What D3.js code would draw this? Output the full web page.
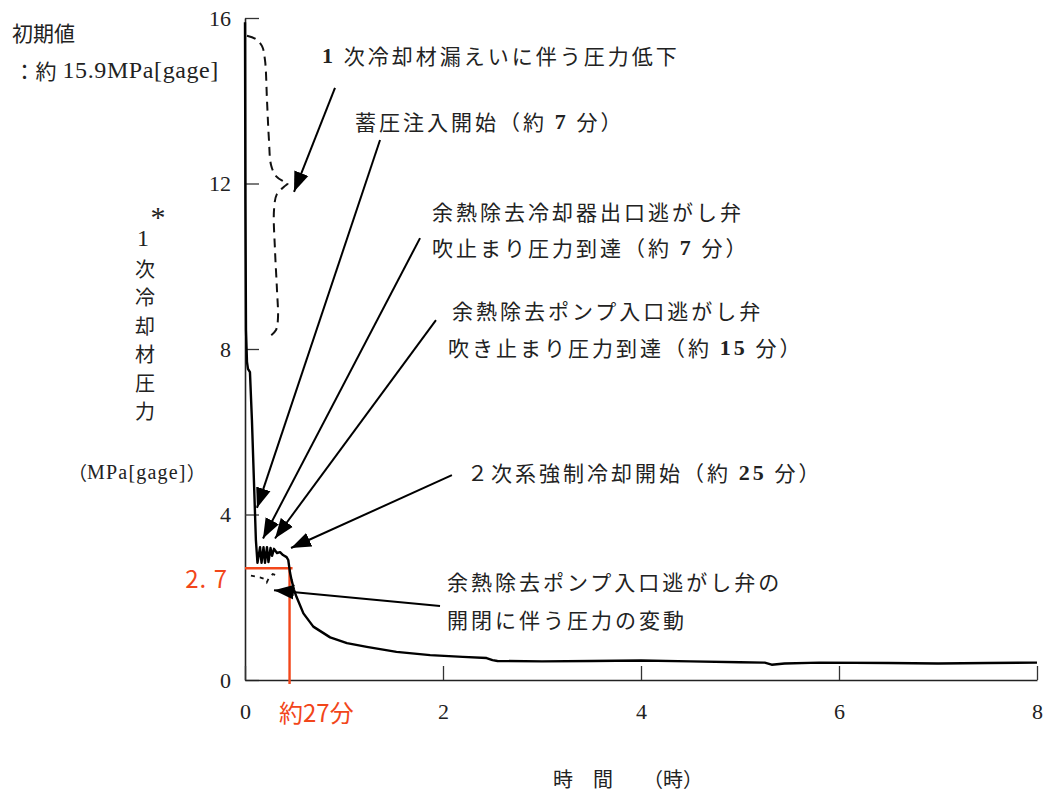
<!DOCTYPE html>
<html lang="ja">
<head>
<meta charset="utf-8">
<script src="https://cdn.jsdelivr.net/npm/d3@7/dist/d3.min.js"></script>
<style>
  html, body { margin: 0; padding: 0; background: #fff; }
  svg { display: block; }
</style>
</head>
<body>
<svg id="chart" width="1044" height="794"></svg>
<script>
// ---- data -------------------------------------------------------------
// elapsed time [h] and primary coolant pressure [MPa gage]
const timeH = [
  0, 0.004, 0.01, 0.02, 0.03, 0.05, 0.07, 0.09, 0.11, 0.126,
  0.152, 0.167, 0.187, 0.202, 0.222, 0.237, 0.258, 0.273, 0.293, 0.323,
  0.354, 0.384, 0.42, 0.437, 0.455, 0.47, 0.495, 0.52, 0.59, 0.69,
  0.86, 1.03, 1.23, 1.53, 1.87, 2.2, 2.44, 2.5, 2.55, 3.0,
  3.5, 4.0, 4.5, 5.0, 5.25, 5.32, 5.45, 5.8, 6.5, 7.0,
  7.5, 8.0
];
const pressure = [
  15.9, 11.6, 8.46, 7.69, 7.52, 7.44, 6.28, 4.83, 3.38, 2.83,
  3.21, 2.83, 3.21, 2.83, 3.21, 2.85, 3.19, 3.0, 3.17, 3.07,
  3.09, 3.02, 2.97, 2.9, 2.59, 2.42, 2.18, 2.01, 1.61, 1.29,
  1.03, 0.89, 0.8, 0.68, 0.6, 0.56, 0.53, 0.48, 0.46, 0.45,
  0.46, 0.47, 0.45, 0.43, 0.42, 0.37, 0.4, 0.42, 0.41, 0.4,
  0.41, 0.42
];

// pressure fluctuation while the RHR pump inlet relief valve cycles
const flucTime = [0.06, 0.15, 0.2, 0.22, 0.24, 0.28, 0.33];
const flucPres = [2.52, 2.48, 2.44, 2.36, 2.46, 2.56, 2.52];

// schematic of the initial depressurisation (dashed)
const schemTime = [0.02, 0.111, 0.172, 0.202, 0.222, 0.242, 0.263, 0.313, 0.384, 0.434,
                   0.394, 0.323, 0.293, 0.303, 0.323, 0.333, 0.313, 0.232];
const schemPres = [15.57, 15.49, 15.32, 14.98, 14.02, 13.05, 12.45, 12.18, 12.06, 12.01,
                   11.92, 11.75, 11.36, 10.39, 9.43, 8.75, 8.46, 8.27];

const xTicks = [0, 2, 4, 6, 8];
const yTicks = [0, 4, 8, 12, 16];

// reference marker: about 27 min (0.45 h) at 2.7 MPa
const markTime = 0.45;
const markPres = 2.7;

// annotation arrows: [tail time, tail pressure], [tip time, tip pressure]
const arrowTail = [[0.909, 14.31], [1.364, 13.05], [1.768, 10.68], [1.929, 8.70], [2.09, 4.95], [1.97, 1.79]];
const arrowTip  = [[0.495, 11.80], [0.121, 4.16], [0.182, 3.42], [0.303, 3.42], [0.465, 3.19], [0.293, 2.17]];

// annotation texts
const noteLines = [
  "1 次冷却材漏えいに伴う圧力低下",
  "蓄圧注入開始（約 7 分）",
  "余熱除去冷却器出口逃がし弁",
  "吹止まり圧力到達（約 7 分）",
  "余熱除去ポンプ入口逃がし弁",
  "吹き止まり圧力到達（約 15 分）",
  "２次系強制冷却開始（約 25 分）",
  "余熱除去ポンプ入口逃がし弁の",
  "開閉に伴う圧力の変動"
];
const notePos = [[322, 55], [355, 121], [432, 211], [432, 247], [452, 310], [448, 347], [467, 472], [447, 581], [447, 619]];

const yTitleChars = ["次", "冷", "却", "材", "圧", "力"];

// ---- drawing ----------------------------------------------------------
const svg = d3.select("#chart");
const x = d3.scaleLinear().domain([0, 8]).range([245, 1037]);
const y = d3.scaleLinear().domain([0, 16]).range([680, 18]);

const CJK = "'Noto Sans CJK JP', 'Noto Sans', sans-serif";
const SERIF = "'Liberation Serif', 'DejaVu Serif', serif";
const RED = "#f2461a";

// writes a string, ASCII runs in serif, everything else in the CJK face
function mixedText(sel, str, size, bold, asciiSize) {
  const parts = str.match(/[\x21-\x7E]+|[^\x21-\x7E]+/g) || [];
  parts.forEach(p => {
    const ascii = /^[\x21-\x7E]+$/.test(p);
    sel.append("tspan")
      .attr("font-family", ascii ? SERIF : CJK)
      .attr("font-weight", ascii && bold ? "bold" : "normal")
      .attr("font-size", ascii ? (asciiSize || size + 1) : size)
      .text(p);
  });
}

// axes
const yAxis = d3.axisLeft(y).tickValues(yTicks).tickSizeInner(-14).tickSizeOuter(0).tickPadding(14);
const gy = svg.append("g").attr("transform", `translate(${x(0)},0)`).call(yAxis);
gy.select(".domain").attr("stroke", "#222").attr("stroke-width", 1.6);
gy.selectAll(".tick line").attr("stroke", "#333").attr("stroke-width", 1.3);
gy.selectAll(".tick text").attr("font-family", SERIF).attr("font-size", 22).attr("fill", "#222");

const xAxis = d3.axisBottom(x).tickValues(xTicks).tickSizeInner(-14).tickSizeOuter(0).tickPadding(14);
const gx = svg.append("g").attr("transform", `translate(0,${y(0)})`).call(xAxis);
gx.select(".domain").attr("stroke", "#222").attr("stroke-width", 1.6);
gx.selectAll(".tick line").attr("stroke", "#333").attr("stroke-width", 1.3);
gx.selectAll(".tick text").attr("font-family", SERIF).attr("font-size", 22).attr("fill", "#222")
  .attr("dy", null).attr("y", 31).attr("dominant-baseline", "central");

// red marker at about 27 min
svg.append("line")
  .attr("x1", x(0)).attr("x2", x(markTime) + 3)
  .attr("y1", y(markPres)).attr("y2", y(markPres))
  .attr("stroke", RED).attr("stroke-width", 2.6);
svg.append("line")
  .attr("x1", x(markTime)).attr("x2", x(markTime))
  .attr("y1", y(markPres)).attr("y2", y(0) + 4)
  .attr("stroke", RED).attr("stroke-width", 2.4);
svg.append("text").attr("x", 228).attr("y", y(markPres) + 9).attr("text-anchor", "end")
  .attr("dominant-baseline", "central").attr("font-family", CJK).attr("font-size", 24)
  .attr("fill", RED).attr("letter-spacing", 1).text("2. 7");
svg.append("text").attr("x", 279).attr("y", 711).attr("dominant-baseline", "central")
  .attr("font-family", CJK).attr("font-size", 24).attr("fill", RED).text("約27分");

// dashed schematic
const line = d3.line().x(d => x(d[0])).y(d => y(d[1])).curve(d3.curveCatmullRom.alpha(0.5));
svg.append("path")
  .datum(schemTime.map((t, i) => [t, schemPres[i]]))
  .attr("d", line)
  .attr("fill", "none").attr("stroke", "#111").attr("stroke-width", 2)
  .attr("stroke-dasharray", "9,6");

// fluctuation trace
svg.append("path")
  .datum(flucTime.map((t, i) => [t, flucPres[i]]))
  .attr("d", d3.line().x(d => x(d[0])).y(d => y(d[1])))
  .attr("fill", "none").attr("stroke", "#111").attr("stroke-width", 1.8)
  .attr("stroke-dasharray", "4,5");

// main pressure trace
svg.append("path")
  .datum(timeH.map((t, i) => [t, pressure[i]]))
  .attr("d", d3.line().x(d => x(d[0])).y(d => y(d[1])))
  .attr("fill", "none").attr("stroke", "#000").attr("stroke-width", 2.4)
  .attr("stroke-linejoin", "round");

// arrows
svg.append("defs").append("marker")
  .attr("id", "head").attr("markerUnits", "userSpaceOnUse")
  .attr("viewBox", "-20 -8 21 16").attr("refX", 0).attr("refY", 0)
  .attr("markerWidth", 21).attr("markerHeight", 16).attr("orient", "auto")
  .append("path").attr("d", "M0,0 L-20,-7.5 L-20,7.5 Z").attr("fill", "#000");

arrowTail.forEach((a, i) => {
  const b = arrowTip[i];
  svg.append("line")
    .attr("x1", x(a[0])).attr("y1", y(a[1]))
    .attr("x2", x(b[0])).attr("y2", y(b[1]))
    .attr("stroke", "#000").attr("stroke-width", 2)
    .attr("marker-end", "url(#head)");
});

// annotation texts
noteLines.forEach((s, i) => {
  const t = svg.append("text").attr("x", notePos[i][0]).attr("y", notePos[i][1])
    .attr("dominant-baseline", "central").attr("fill", "#222").attr("letter-spacing", 3);
  mixedText(t, s, 21, true);
});

// initial value note
svg.append("text").attr("x", 12).attr("y", 32).attr("dominant-baseline", "central")
  .attr("font-family", CJK).attr("font-size", 21).attr("fill", "#222").text("初期値");
const iv = svg.append("text").attr("x", 14).attr("y", 70).attr("dominant-baseline", "central")
  .attr("fill", "#222").attr("letter-spacing", 0.6);
mixedText(iv, "：約 15.9MPa[gage]", 21, false, 24);

// y-axis title, stacked vertically
svg.append("text").attr("x", 158).attr("y", 216).attr("text-anchor", "middle").attr("dominant-baseline", "central")
  .attr("font-family", SERIF).attr("font-size", 30).attr("fill", "#222").text("*");
svg.append("text").attr("x", 143).attr("y", 238).attr("text-anchor", "middle").attr("dominant-baseline", "central")
  .attr("font-family", SERIF).attr("font-size", 24).attr("fill", "#222").text("1");
yTitleChars.forEach((c, i) => {
  svg.append("text").attr("x", 145).attr("y", 268 + i * 28.5).attr("text-anchor", "middle")
    .attr("dominant-baseline", "central").attr("font-family", CJK).attr("font-size", 20)
    .attr("fill", "#222").text(c);
});
const unit = svg.append("text").attr("x", 68).attr("y", 472).attr("dominant-baseline", "central")
  .attr("fill", "#222");
unit.append("tspan").attr("font-family", CJK).attr("font-size", 19).text("（");
unit.append("tspan").attr("font-family", SERIF).attr("font-size", 20).attr("letter-spacing", 1.2).text("MPa[gage]");
unit.append("tspan").attr("font-family", CJK).attr("font-size", 19).text("）");

// x-axis title
svg.append("text").attr("x", 553).attr("y", 778).attr("dominant-baseline", "central")
  .attr("font-family", CJK).attr("font-size", 20).attr("fill", "#222").text("時　間　　（時）");
</script>
</body>
</html>
